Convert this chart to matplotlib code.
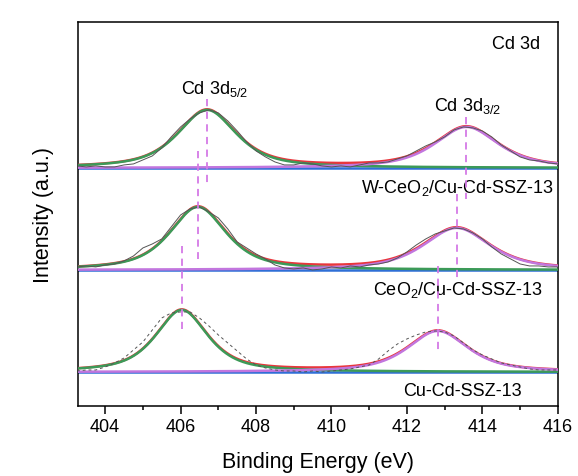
import matplotlib
matplotlib.use("Agg")
import matplotlib.pyplot as plt
import numpy as np

plt.rcParams['font.family'] = ['Liberation Sans', 'DejaVu Sans']
plt.rcParams['mathtext.fontset'] = 'custom'
plt.rcParams['mathtext.rm'] = 'Liberation Sans'

# binding energy grid of the raw spectra (eV), 403.25 ... 416.0
energy = np.arange(403.25, 416.01, 0.25)

# raw intensities above each spectrum's own background (a.u.)
raw_w = [2, 1, 2, 1, 1, 3, 4, 8, 12, 20, 31, 41, 49, 55, 58, 55, 47, 37, 26, 17,
         11, 6, 3, 3, 5, 4, 2, 1, 2, 1, 3, 5, 5, 6, 9, 12, 17, 22, 26, 31,
         38, 41, 40, 37, 31, 23, 17, 11, 8, 7, 5, 4]
raw_ce = [3, 4, 3, 5, 6, 9, 14, 22, 26, 31, 43, 55, 61, 63, 58, 52, 41, 28, 22, 16,
          11, 5, 2, 1, 2, 0, 1, 3, 2, 4, 3, 5, 6, 8, 12, 18, 25, 31, 36, 39,
          42, 41, 37, 31, 23, 16, 11, 6, 4, 4, 3, 3]
raw_cu = [1, 2, 2, 5, 9, 14, 22, 30, 42, 54, 59, 60, 60, 54, 46, 37, 29, 21, 13, 7,
          4, 2, 1, 1, 0, 1, 0, 1, 2, 3, 5, 7, 13, 21, 28, 33, 37, 40, 41, 40,
          36, 29, 22, 17, 13, 9, 7, 5, 3, 2, 2, 2]

# stacking offsets of the three samples
offsets = [238, 136, 34]
labels = ['W-CeO$_2$/Cu-Cd-SSZ-13', 'CeO$_2$/Cu-Cd-SSZ-13', 'Cu-Cd-SSZ-13']
label_x = [415.9, 415.6, 415.04]

# fitted peaks: (centre eV, height, FWHM eV) for 3d5/2 and 3d3/2
peaks_52 = [(406.70, 58, 1.85), (406.46, 63, 1.78), (406.03, 62, 1.64)]
peaks_32 = [(413.58, 41, 2.00), (413.32, 42, 2.10), (412.82, 41, 1.90)]

# dashed peak markers: (energy, y from, y to)
markers = [(406.70, 307, 222), (413.58, 289, 207),
           (406.46, 255, 147), (413.32, 212, 125),
           (406.03, 160, 77), (412.82, 140, 55)]


def pvoigt(x, c, h, fwhm, eta=0.7):
    hw = fwhm / 2
    lor = 1 / (1 + ((x - c) / hw) ** 2)
    gau = np.exp(-np.log(2) * ((x - c) / hw) ** 2)
    return h * (eta * lor + (1 - eta) * gau)


fig = plt.figure(figsize=(5.78, 4.77), dpi=100)
ax = fig.add_axes([0.135, 0.1468, 0.83, 0.8052])

xf = np.linspace(403.2, 416.1, 600)
raws = [raw_w, raw_ce, raw_cu]
for i in range(3):
    off = offsets[i]
    p1 = pvoigt(xf, *peaks_52[i])
    p2 = pvoigt(xf, *peaks_32[i])
    ax.plot(xf, np.full_like(xf, off), color='#2f6fd6', lw=1.8, zorder=2)
    ax.plot(xf, off + p1 + p2, color='#e8363c', lw=1.8, zorder=3)
    ax.plot(xf, off + p1, color='#3c9a58', lw=1.8, zorder=4)
    ax.plot(xf, off + p2, color='#c276de', lw=1.8, zorder=4)
    ls = '-' if i < 2 else (0, (3, 3))
    ax.plot(energy, off + np.array(raws[i]), color='#555555', lw=0.7, ls=ls, zorder=5)
    ax.text(label_x[i], off - 19, labels[i], ha='right', va='center', fontsize=13)

for e, y0, y1 in markers:
    ax.plot([e, e], [y0, y1], color='#d47ae6', lw=1.3, ls=(0, (4, 3)), zorder=6)

ax.text(415.52, 362, 'Cd 3d', ha='right', va='center', fontsize=13)
ax.text(406.9, 318, 'Cd 3d$_{5/2}$', ha='center', va='center', fontsize=13)
ax.text(413.6, 301, 'Cd 3d$_{3/2}$', ha='center', va='center', fontsize=13)

ax.set_xlim(403.28, 416)
ax.set_ylim(0, 384)
ax.set_xticks(np.arange(404, 417, 2))
ax.set_xticks(np.arange(404, 417, 1), minor=True)
ax.set_yticks([])
ax.tick_params(axis='x', which='major', direction='out', length=6, width=1.1,
               labelsize=13, pad=3)
ax.tick_params(axis='x', which='minor', direction='out', length=3, width=1.1)
for s in ax.spines.values():
    s.set_linewidth(1.1)
ax.set_xlabel('Binding Energy (eV)', fontsize=15.5, labelpad=11.5)
ax.set_ylabel('Intensity (a.u.)', fontsize=15.5, labelpad=17)

fig.savefig('out.png', dpi=100)
